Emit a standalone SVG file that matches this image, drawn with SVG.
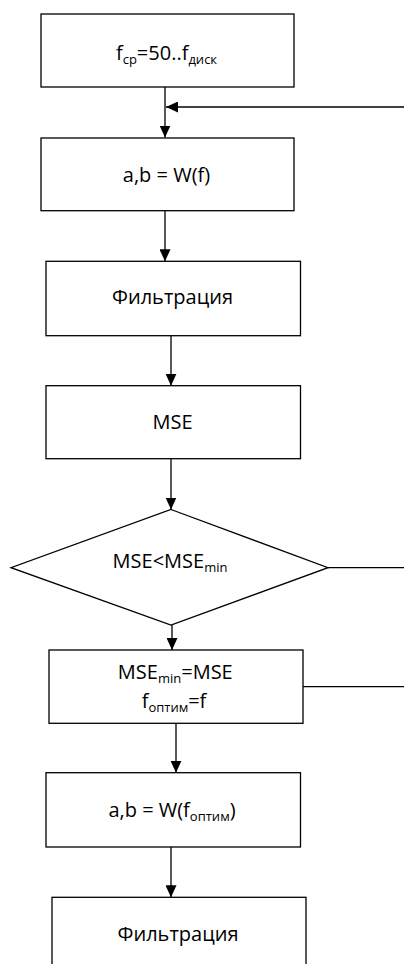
<svg xmlns="http://www.w3.org/2000/svg" width="404" height="964" viewBox="0 0 404 964">
<style>
.n{fill:#fff;stroke:#000;stroke-width:1.3}
.c{fill:none;stroke:#000;stroke-width:1.3}
text{font-family:"Open Sans","Noto Sans",sans-serif;font-size:20px;fill:#000;text-anchor:middle}
.s{font-size:13px}
</style>
<defs>
<marker id="ah" viewBox="0 0 12 11" refX="12" refY="5.5" markerWidth="12" markerHeight="11" markerUnits="userSpaceOnUse" orient="auto">
<path d="M0,0 L12,5.5 L0,11 z" fill="#000"/>
</marker>
</defs>
<rect width="404" height="964" fill="#fff"/>
<g id="connectors">
<path class="c" d="M165 87 V137.5" marker-end="url(#ah)"/>
<path class="c" d="M404 107 H166" marker-end="url(#ah)"/>
<path class="c" d="M165 210.7 V261.3" marker-end="url(#ah)"/>
<path class="c" d="M171 335.7 V385.7" marker-end="url(#ah)"/>
<path class="c" d="M171 458.7 V509.5" marker-end="url(#ah)"/>
<path class="c" d="M328 567.7 H404"/>
<path class="c" d="M172 625 V650" marker-end="url(#ah)"/>
<path class="c" d="M303 686.7 H404"/>
<path class="c" d="M176 723.3 V772.7" marker-end="url(#ah)"/>
<path class="c" d="M171 847 V897.3" marker-end="url(#ah)"/>
</g>
<g id="n1">
<rect class="n" x="41" y="14" width="253" height="73"/>
<text x="166.5" y="60">f<tspan class="s" dy="4">ср</tspan><tspan dy="-4">=50..f</tspan><tspan class="s" dy="4">диск</tspan></text>
</g>
<g id="n2">
<rect class="n" x="41" y="138" width="253" height="72.7"/>
<text x="166.5" y="182">a,b = W(f)</text>
</g>
<g id="n3">
<rect class="n" x="46" y="261.3" width="254.5" height="74.4"/>
<text x="172.5" y="304">Фильтрация</text>
</g>
<g id="n4">
<rect class="n" x="46" y="385.7" width="254.5" height="73"/>
<text x="172.5" y="429">MSE</text>
</g>
<g id="n5">
<path class="n" d="M171 509.5 L328 567.7 L171 625 L11 567.7 Z"/>
<text x="170" y="568">MSE&lt;MSE<tspan class="s" dy="4">min</tspan></text>
</g>
<g id="n6">
<rect class="n" x="49" y="650" width="254" height="73.3"/>
<text x="175.3" y="679">MSE<tspan class="s" dy="4">min</tspan><tspan dy="-4">=MSE</tspan></text>
<text x="174" y="708">f<tspan class="s" dy="4">оптим</tspan><tspan dy="-4">=f</tspan></text>
</g>
<g id="n7">
<rect class="n" x="46" y="772.7" width="254.5" height="74.3"/>
<text x="172" y="817">a,b = W(f<tspan class="s" dy="4">оптим</tspan><tspan dy="-4">)</tspan></text>
</g>
<g id="n8">
<rect class="n" x="52" y="897.3" width="254" height="100"/>
<text x="178" y="940.5">Фильтрация</text>
</g>
</svg>
